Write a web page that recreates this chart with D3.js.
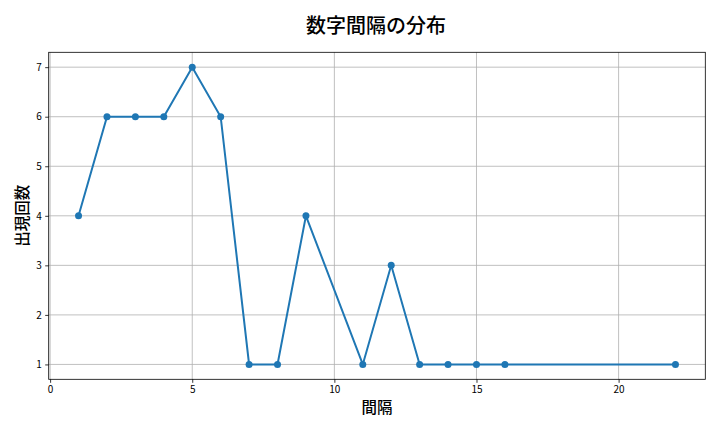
<!DOCTYPE html>
<html><head><meta charset="utf-8">
<script src="https://cdn.jsdelivr.net/npm/d3@7"></script>
<style>body{margin:0;background:#fff;} svg{display:block;}</style>
</head><body>
<svg id="c" width="720" height="432"></svg>
<script>
const intervals = [1,2,3,4,5,6,7,8,9,11,12,13,14,15,16,22];
const counts    = [4,6,6,6,7,6,1,1,4,1,3,1,1,1,1,1];
const xTicks = [0,5,10,15,20];
const yTicks = [1,2,3,4,5,6,7];
const title = "数字間隔の分布";
const xLabel = "間隔";
const yLabel = "出現回数";

const font = "'Noto Sans CJK JP','Noto Sans',sans-serif";
const svg = d3.select("#c");
const L=48.7, R=705.3, T=52.3, B=379.3;
const x = d3.scaleLinear().domain([-0.05,23.05]).range([L,R]);
const y = d3.scaleLinear().domain([0.7,7.3]).range([B,T]);

// grid
svg.append("g").selectAll("line").data(xTicks).join("line")
  .attr("x1",d=>x(d)).attr("x2",d=>x(d)).attr("y1",T).attr("y2",B)
  .attr("stroke","#b0b0b0").attr("stroke-width",0.8);
svg.append("g").selectAll("line").data(yTicks).join("line")
  .attr("x1",L).attr("x2",R).attr("y1",d=>y(d)).attr("y2",d=>y(d))
  .attr("stroke","#b0b0b0").attr("stroke-width",0.8);

// axes
const xa = svg.append("g").attr("transform",`translate(0,${B})`)
  .call(d3.axisBottom(x).tickValues(xTicks).tickSize(3.5).tickPadding(3.5).tickFormat(d3.format("d")));
const ya = svg.append("g").attr("transform",`translate(${L},0)`)
  .call(d3.axisLeft(y).tickValues(yTicks).tickSize(3.5).tickPadding(3.5).tickFormat(d3.format("d")));
[xa,ya].forEach(a=>{
  a.select(".domain").remove();
  a.selectAll("line").attr("stroke","#000").attr("stroke-width",0.8);
  a.selectAll("text").attr("fill","#000").style("font-family",font).style("font-size","10px");
});
svg.append("rect").attr("x",L).attr("y",T).attr("width",R-L).attr("height",B-T)
  .attr("fill","none").attr("stroke","#000").attr("stroke-width",0.8);

// line
const pts = intervals.map((d,i)=>[d,counts[i]]);
svg.append("path").datum(pts)
  .attr("d",d3.line().x(d=>x(d[0])).y(d=>y(d[1])))
  .attr("fill","none").attr("stroke","#1f77b4").attr("stroke-width",2);
svg.append("g").selectAll("circle").data(pts).join("circle")
  .attr("cx",d=>x(d[0])).attr("cy",d=>y(d[1])).attr("r",3.5).attr("fill","#1f77b4");

// texts
svg.append("text").attr("x",376).attr("y",33).attr("text-anchor","middle")
  .style("font-family",font).style("font-size","20px").style("font-weight","500").text(title);
svg.append("text").attr("x",377).attr("y",413).attr("text-anchor","middle")
  .style("font-family",font).style("font-size","15.5px").style("font-weight","500").text(xLabel);
svg.append("text").attr("transform",`translate(28,${(T+B)/2}) rotate(-90)`).attr("text-anchor","middle")
  .style("font-family",font).style("font-size","15.5px").style("font-weight","500").text(yLabel);
</script>
</body></html>
